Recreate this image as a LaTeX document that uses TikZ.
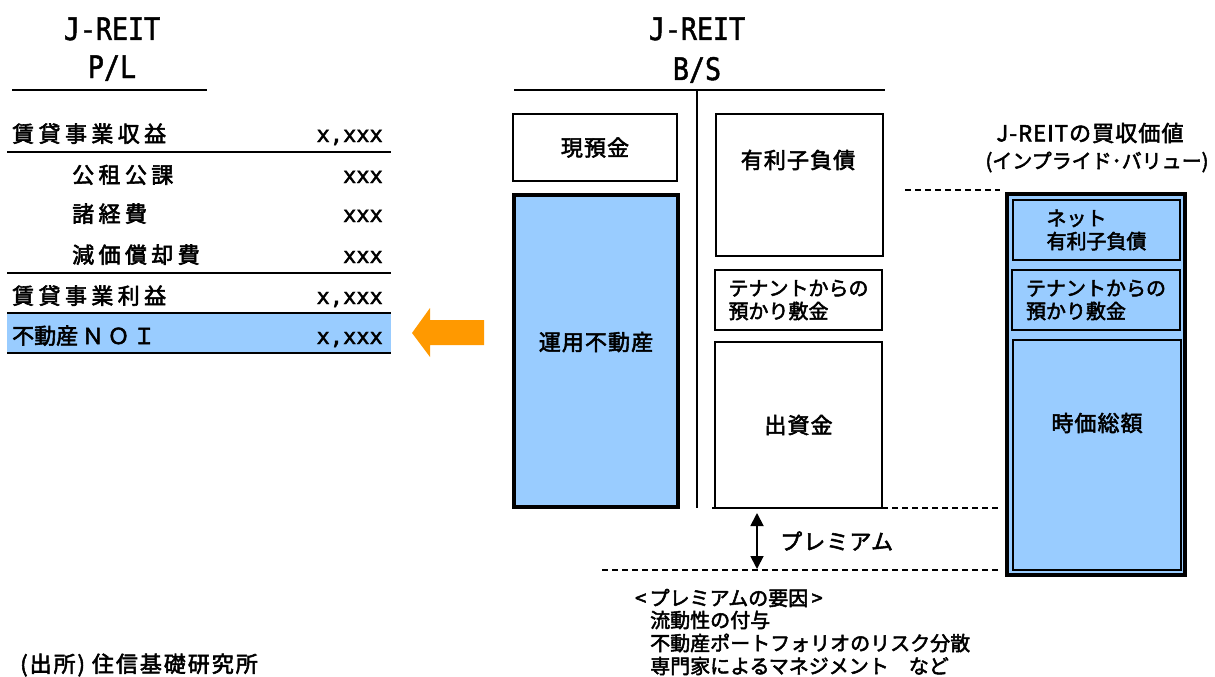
\documentclass[tikz,border=0pt]{standalone}
\usepackage{fontspec}
\usetikzlibrary{arrows.meta}
\setmainfont{Noto Sans CJK JP}[FakeBold=2.5]
\newfontfamily\monof{DejaVu Sans Mono}[FakeBold=2]
\newfontfamily\monot{DejaVu Sans Mono}[FakeStretch=0.86,FakeBold=1.5]
\newfontfamily\jpsp{Noto Sans CJK JP}[LetterSpace=20,FakeBold=2.5]
\newfontfamily\jpsm{Noto Sans CJK JP}[LetterSpace=5,FakeBold=2.5]
\newfontfamily\jpft{Noto Sans CJK JP}[LetterSpace=9,FakeBold=2.5]
\definecolor{lblue}{HTML}{99CCFF}
\definecolor{orng}{HTML}{FF9900}
\tikzset{
  ttl/.style={anchor=base, inner sep=0, font=\monot\fontsize{31}{36}\selectfont},
  plitem/.style={anchor=base west, inner sep=0, font=\jpsp\fontsize{22}{26}\selectfont},
  plnum/.style={anchor=base east, inner sep=0, font=\monof\fontsize{22}{26}\selectfont},
  rule/.style={line width=2.5pt},
  thinrule/.style={line width=1.2pt},
  thinbox/.style={draw, line width=1.3pt, inner sep=0},
  thickbox/.style={draw, line width=4pt, fill=lblue, inner sep=0},
  bluebox/.style={draw, line width=1.3pt, fill=lblue, inner sep=0},
  lbl/.style={inner sep=0, font=\jpsm\fontsize{22}{26}\selectfont},
  sm/.style={inner sep=0, font=\fontsize{20}{24}\selectfont},
  dashline/.style={line width=1.2pt, dash pattern=on 6pt off 4pt},
}
\begin{document}
\begin{tikzpicture}[x=1pt,y=-1pt]
\useasboundingbox (0,0) rectangle (1215,677);
% ---------- P/L ----------
\node[ttl] (pl1) at (112,40) {J-REIT};
\node[ttl] (pl2) at (112,78) {P/L};
\draw[thinrule] (12,90) -- (207,90);
\node[fill=lblue, minimum width=384, minimum height=40, inner sep=0] (noirow) at (199,333) {};
\draw[rule] (7,152) -- (391,152);
\draw[rule] (7,273) -- (391,273);
\draw[rule] (7,313) -- (391,313);
\draw[rule] (7,353) -- (391,353);
\node[plitem] (r1) at (12,142) {賃貸事業収益};
\node[plnum] (n1) at (383,142) {x,xxx};
\node[plitem] (r2) at (72,183) {公租公課};
\node[plnum] (n2) at (383,183) {xxx};
\node[plitem] (r3) at (72,222) {諸経費};
\node[plnum] (n3) at (383,222) {xxx};
\node[plitem] (r4) at (72,263) {減価償却費};
\node[plnum] (n4) at (383,263) {xxx};
\node[plitem] (r5) at (12,304) {賃貸事業利益};
\node[plnum] (n5) at (383,304) {x,xxx};
\node[plitem, font=\fontsize{22}{26}\selectfont] (r6) at (12,344) {不動産\,Ｎ\,Ｏ\,Ｉ};
\node[plnum] (n6) at (383,344) {x,xxx};
% orange arrow
\fill[orng] (412,333) -- (430,308) -- (430,320) -- (484,320) -- (484,345) -- (430,345) -- (430,357) -- cycle;
% ---------- B/S ----------
\node[ttl] (bs1) at (697,40) {J-REIT};
\node[ttl] (bs2) at (697,80) {B/S};
\draw[thinrule] (514,90) -- (885,90);
\draw[line width=1.8pt] (697,90) -- (697,508);
\node[thinbox, minimum width=164, minimum height=67, lbl] (cash) at (595,147.5) {現預金};
\node[thickbox, minimum width=164, minimum height=312] (re) at (596,351) {};
\node[lbl] (relbl) at (596,342) {運用不動産};
\node[thinbox, minimum width=167, minimum height=142] (debt) at (799.5,185) {};
\node[lbl] (debtlbl) at (798,160) {有利子負債};
\node[thinbox, minimum width=167, minimum height=60, sm, align=left] (dep) at (798.5,300) {テナントからの\\[-1pt]預かり敷金};
\node[thinbox, minimum width=167, minimum height=166, lbl] (eq) at (798.5,425) {出資金};
% dashed levels
\coordinate (d1a) at (905,190); \coordinate (d1b) at (1000,190);
\coordinate (d2a) at (712,508); \coordinate (d2b) at (1000,508);
\coordinate (d3a) at (602,570); \coordinate (d3b) at (1000,570);
\draw[dashline] (d1a) -- (d1b);
\draw[dashline] (d2a) -- (d2b);
\draw[dashline] (d3a) -- (d3b);
\coordinate (pa) at (757,513); \coordinate (pb) at (757,569);
\draw[line width=1.8pt, {Triangle[width=13pt,length=13pt]}-{Triangle[width=13pt,length=13pt]}] (pa) -- (pb);
\node[lbl, anchor=west] (prem) at (780,541) {プレミアム};
\node[sm, anchor=west] (f0) at (635,598) {<\,プレミアムの要因\,>};
\node[sm, anchor=west] (f1) at (650,620) {流動性の付与};
\node[sm, anchor=west] (f2) at (650,643) {不動産ポートフォリオのリスク分散};
\node[sm, anchor=west] (f3) at (650,666) {専門家によるマネジメント　など};
% ---------- Implied value ----------
\node[lbl] (iv1) at (1090,133) {J-REITの買収価値};
\node[sm] (iv2) at (1097,162) {(インプライド･バリュー)};
\node[thickbox, minimum width=178, minimum height=381] (iv) at (1096,384.5) {};
\node[bluebox, minimum width=167, minimum height=60, sm, align=left] (nd) at (1096.5,230) {ネット\\[-1pt]有利子負債};
\node[bluebox, minimum width=168, minimum height=60, sm, align=left] (dep2) at (1096,300) {テナントからの\\[-1pt]預かり敷金};
\node[bluebox, minimum width=168, minimum height=230] (mc) at (1097,455) {};
\node[lbl] (mclbl) at (1097,423) {時価総額};
% ---------- source ----------
\node[anchor=west, inner sep=0, font=\jpft\fontsize{22}{26}\selectfont] (src) at (20,665) {(出所) 住信基礎研究所};
\end{tikzpicture}
\end{document}
